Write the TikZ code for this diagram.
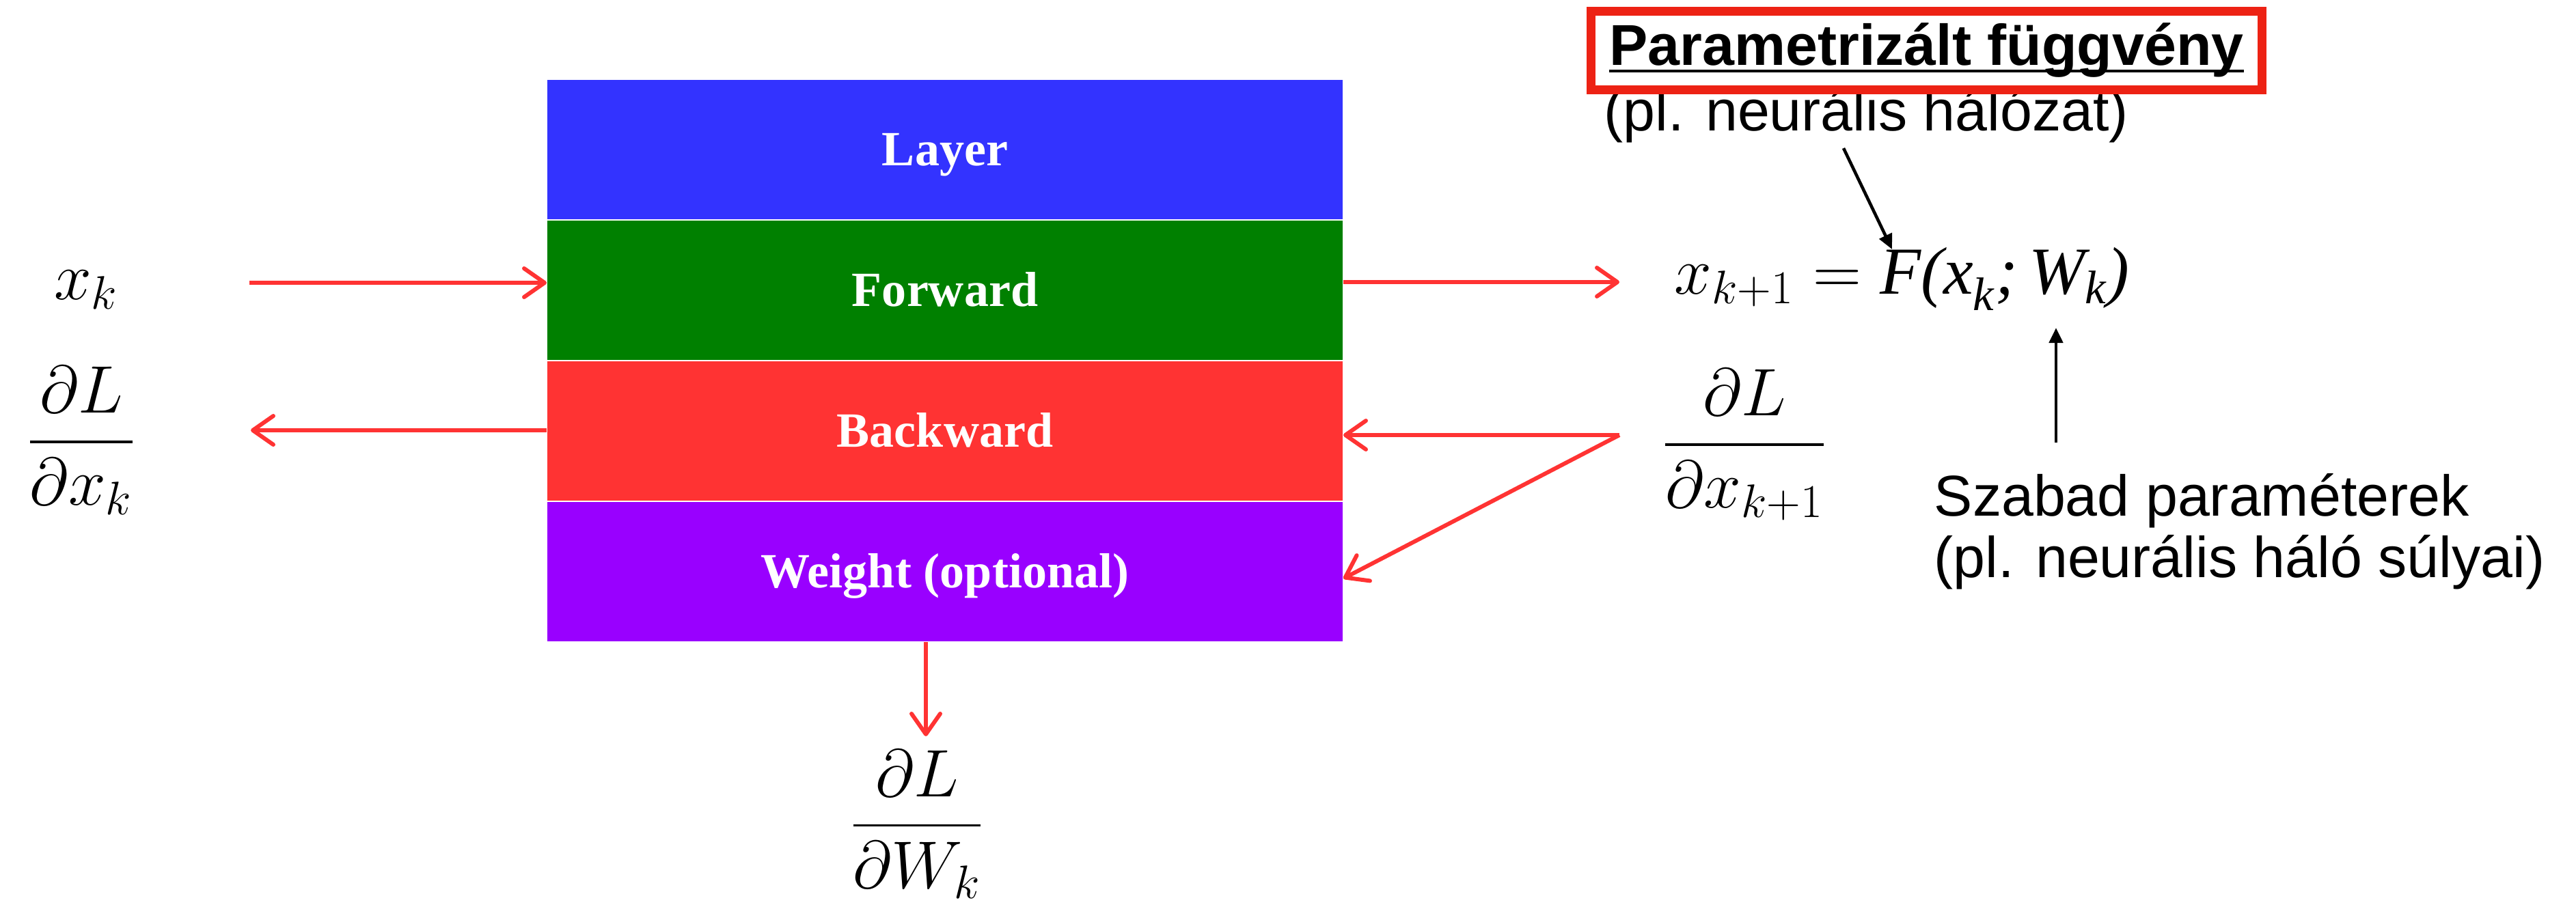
\documentclass[tikz,border=0pt]{standalone}
\usepackage{fix-cm}
\usepackage{amsmath}
\usepackage{fontspec}
\newfontfamily\helv{Liberation Sans}
\newfontfamily\tms{Liberation Serif}
\usetikzlibrary{arrows.meta,positioning,calc}
\definecolor{lblue}{HTML}{3333FF}
\definecolor{lgreen}{HTML}{008000}
\definecolor{lred}{HTML}{FF3333}
\definecolor{lpurple}{HTML}{9900FF}
\definecolor{arrred}{HTML}{FF3333}
\definecolor{boxred}{RGB}{237,34,20}
\newcommand{\ti}[1]{\text{\tms\itshape #1}}
\newsavebox\ulbox
\newcommand{\ulinetext}[1]{\sbox\ulbox{#1}\rlap{\rule[-0.10cm]{\wd\ulbox}{0.04cm}}\usebox\ulbox}
\begin{document}
\begin{tikzpicture}[
  lay/.style={minimum width=11.66cm, minimum height=2.06cm, inner sep=0pt, outer sep=0pt,
    draw=white, line width=0.5pt, text=white,
    font=\tms\bfseries\fontsize{20.5}{24}\selectfont, text height=13.6pt, text depth=0pt},
  rarr/.style={draw=arrred, line width=1.7pt, -{Straight Barb[length=0.3cm,width=0.42cm,round]}},
  barr/.style={draw=black, line width=1.3pt, -{Triangle[length=0.22cm,width=0.2cm]}},
  mth/.style={font=\fontsize{28}{34}\selectfont, inner sep=0pt},
  hv/.style={font=\helv\fontsize{24}{28}\selectfont, inner sep=0pt},
]
\useasboundingbox (0,0) rectangle (37.70,-13.28);

% layer stack
\node[lay, fill=lblue, anchor=north] (layer) at (13.83,-1.16) {Layer};
\node[lay, fill=lgreen, below=0pt of layer] (fwd) {Forward};
\node[lay, fill=lred, below=0pt of fwd] (bwd) {Backward};
\node[lay, fill=lpurple, below=0pt of bwd] (wgt) {Weight (optional)};

% math labels
\node[mth, anchor=base] (xk) at (1.26,-4.38) {$x_k$};
\node[mth, anchor=base] (dxk) at (1.19,-6.715) {$\dfrac{\partial L}{\partial x_k}$};
\node[mth, anchor=base west] (fx) at (24.50,-4.30) {$x_{k+1} = \ti{F(x}_{\ti{k}}\ti{;}\,\ti{W}_{\ti{k}}\ti{)}$};
\node[mth, anchor=base] (dxk1) at (25.53,-6.755) {$\dfrac{\partial L}{\partial x_{k+1}}$};
\node[mth, anchor=base] (dwk) at (13.42,-12.33) {$\dfrac{\partial L}{\partial W_k}$};

% annotations
\node[hv, anchor=base west] (pln) at (23.47,-1.92) {(pl. neurális hálózat)};
\node[hv, draw=boxred, line width=0.13cm, fill=white, minimum width=9.82cm,
  minimum height=1.15cm, inner sep=0pt] (ptitle) at (28.195,-0.74)
  {\bfseries\ulinetext{Parametrizált függvény}};
\node[hv, anchor=base west] (szab) at (28.30,-7.55) {Szabad paraméterek};
\node[hv, anchor=base west] (szab2) at (28.30,-8.45) {(pl. neurális háló súlyai)};

% red connectors
\coordinate (xin) at (3.65,-4.14);
\draw[rarr] (xin) -- (xin -| fwd.west);
\coordinate (gout) at (3.67,-6.30);
\draw[rarr] (gout -| bwd.west) -- (gout);
\coordinate (xout) at (23.70,-4.13);
\draw[rarr] (xout -| fwd.east) -- (xout);
\coordinate (gin) at (23.70,-6.37);
\draw[rarr] (gin) -- (gin -| bwd.east);
\draw[rarr] (gin) -- ($(wgt.east)+(0,-0.1)$);
\coordinate (gw) at (13.55,-10.78);
\draw[rarr] (gw |- wgt.south) -- (gw);

% black connectors
\coordinate (fpt) at (26.98,-2.17);
\coordinate (ftip) at (27.69,-3.65);
\draw[barr] (fpt) -- (ftip);
\coordinate (wbase) at (30.09,-6.48);
\coordinate (wtip) at (30.09,-4.80);
\draw[barr] (wbase) -- (wtip);
\end{tikzpicture}
\end{document}
